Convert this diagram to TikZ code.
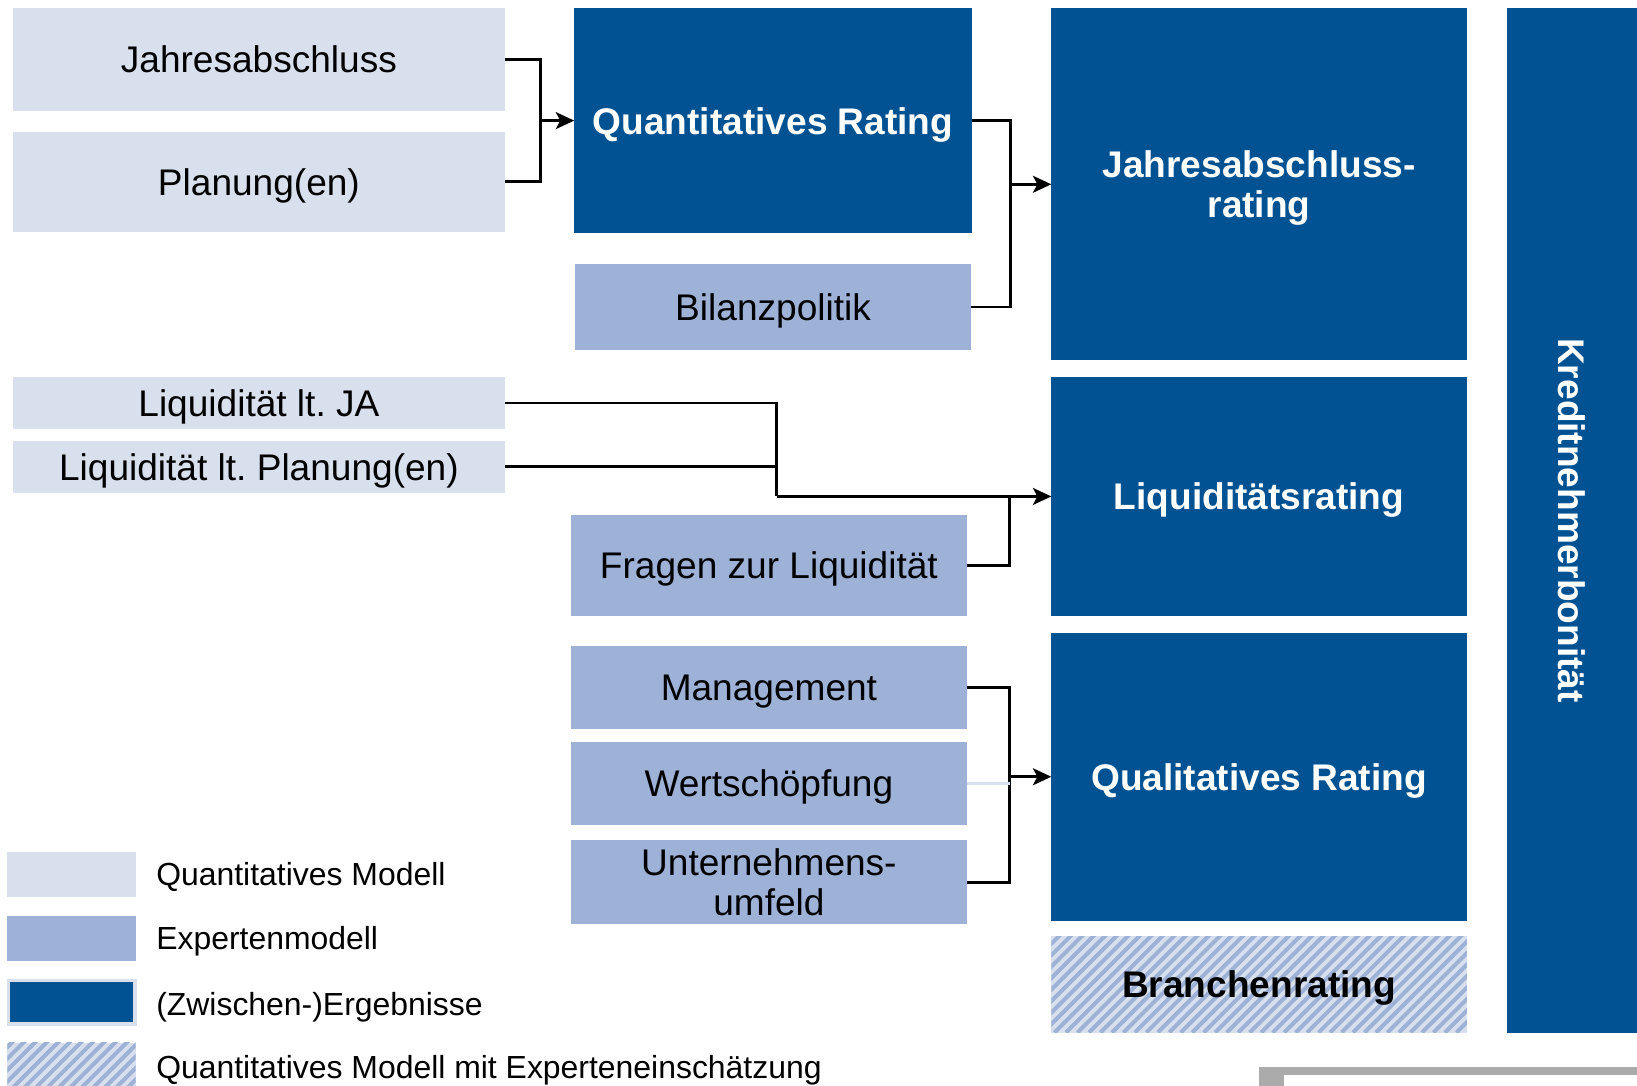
\documentclass[tikz,border=0pt]{standalone}
\usepackage{fontspec}
\setmainfont{Liberation Sans}
\usetikzlibrary{arrows.meta,calc}
\definecolor{lightfill}{RGB}{217,224,237}
\definecolor{midfill}{RGB}{157,178,214}
\definecolor{darkfill}{RGB}{0,82,147}
\definecolor{framegray}{RGB}{171,171,171}
\begin{document}
\begin{tikzpicture}[x=0.1mm,y=-0.1mm,
  size/.style 2 args={minimum width=#1*0.1mm, minimum height=#2*0.1mm},
  base/.style={inner sep=0pt, outer sep=0pt, anchor=north west, align=center,
    text depth=0pt, font=\fontsize{10.1}{11}\selectfont},
  lightbox/.style={base, fill=lightfill, text=black},
  midbox/.style={base, fill=midfill, text=black},
  darkbox/.style={base, fill=darkfill, text=white,
    font=\fontsize{10.1}{11}\selectfont\bfseries},
  hatched/.style={base, fill=lightfill,
    font=\fontsize{10.1}{11}\selectfont\bfseries,
    path picture={
      \foreach \k in {-140,-129,...,430}
        \draw[midfill, line width=1.1pt]
          ($(path picture bounding box.south west)+(\k,0)$) -- ++(150,-150);
    }},
  legtext/.style={anchor=west, inner sep=0pt, text height=6.3pt, text depth=0pt,
    font=\fontsize{8.7}{10}\selectfont},
  conn/.style={line width=0.75pt, black},
  arr/.style={conn, -{Stealth[length=5pt,width=4.6pt,inset=1.2pt]}},
]
\useasboundingbox (0,0) rectangle (1568,1040);

% annual statements branch
\node[lightbox, size={472}{98}]  (ja)  at (12,8)    {Jahresabschluss};
\node[lightbox, size={472}{96}]  (pl)  at (12,126)  {Planung(en)};
\node[darkbox,  size={381}{215}] (qr)  at (550,8)   {Quantitatives Rating};
\node[midbox,   size={379}{82}]  (bp)  at (551,253) {Bilanzpolitik};
\node[darkbox,  size={398}{337}] (jr)  at (1007,8)  {Jahresabschluss-\\rating};

% overall result column
\node[darkbox, rotate=-90, anchor=center, text depth=, size={981}{125}] (kb) at (1505.5,498.5)
  {Kreditnehmerbonität};

% liquidity branch
\node[lightbox, size={472}{50}]  (lja) at (12,361)  {Liquidität lt.\ JA};
\node[lightbox, size={472}{50}]  (lpl) at (12,422)  {Liquidität lt.\ Planung(en)};
\node[darkbox,  size={398}{229}] (lr)  at (1007,361) {Liquiditätsrating};
\node[midbox,   size={379}{97}]  (fl)  at (547,493) {Fragen zur Liquidität};

% qualitative branch
\node[midbox,   size={379}{79}]  (mg)  at (547,619) {Management};
\node[midbox,   size={379}{79}]  (ws)  at (547,711) {Wertschöpfung};
\node[midbox,   size={379}{80}]  (uu)  at (547,805) {Unternehmens-\\umfeld};
\node[darkbox,  size={398}{276}] (qlr) at (1007,606) {Qualitatives Rating};
\node[hatched,  size={398}{92}]  (br)  at (1007,897) {Branchenrating};

% junction points
\coordinate (j1) at (518,115.5);
\coordinate (j2) at (968,176.5);
\coordinate (j3) at (744,475.5);
\coordinate (j4) at (967,475.5);
\coordinate (j5) at (967,744);

% connectors
\draw[conn] (ja.east) -| (j1) |- (pl.east);
\draw[arr]  (j1) -- (j1 -| qr.west);

\draw[conn] (qr.east) -| (j2) |- (bp.east);
\draw[arr]  (j2) -- (j2 -| jr.west);

\draw[conn] (lja.east) -| (j3);
\draw[conn] (lpl.east) -- (lpl.east -| j3);
\draw[arr]  (j3) -- (j3 -| lr.west);
\draw[conn] (fl.east) -| (j4);

\draw[conn] (mg.east) -| (j5) |- (uu.east);
\draw[lightfill, line width=0.75pt] (ws.east) -- (ws.east -| j5);
\draw[arr]  (j5) -- (j5 -| qlr.west);

% legend
\node[lightbox, size={123}{43}] (lg1) at (7,816) {};
\node[midbox,   size={123}{43}] (lg2) at (7,877) {};
\node[darkbox, draw=lightfill, line width=1pt, size={121}{42}] (lg3) at (8,939) {};
\node[hatched,  size={123}{45}] (lg4) at (7,999) {};
\node[legtext] (lt1) at ($(lg1.east)+(19,0)$) {Quantitatives Modell};
\node[legtext] (lt2) at ($(lg2.east)+(19,0)$) {Expertenmodell};
\node[legtext] (lt3) at ($(lg3.east)+(20,2)$) {(Zwischen-)Ergebnisse};
\node[legtext] (lt4) at ($(lg4.east)+(19,0)$) {Quantitatives Modell mit Experteneinschätzung};

% frame edge at the lower right
\fill[framegray] (1206,1022) rectangle (1568,1040);
\fill[white] (1230,1030) rectangle (1568,1040);
\end{tikzpicture}
\end{document}
